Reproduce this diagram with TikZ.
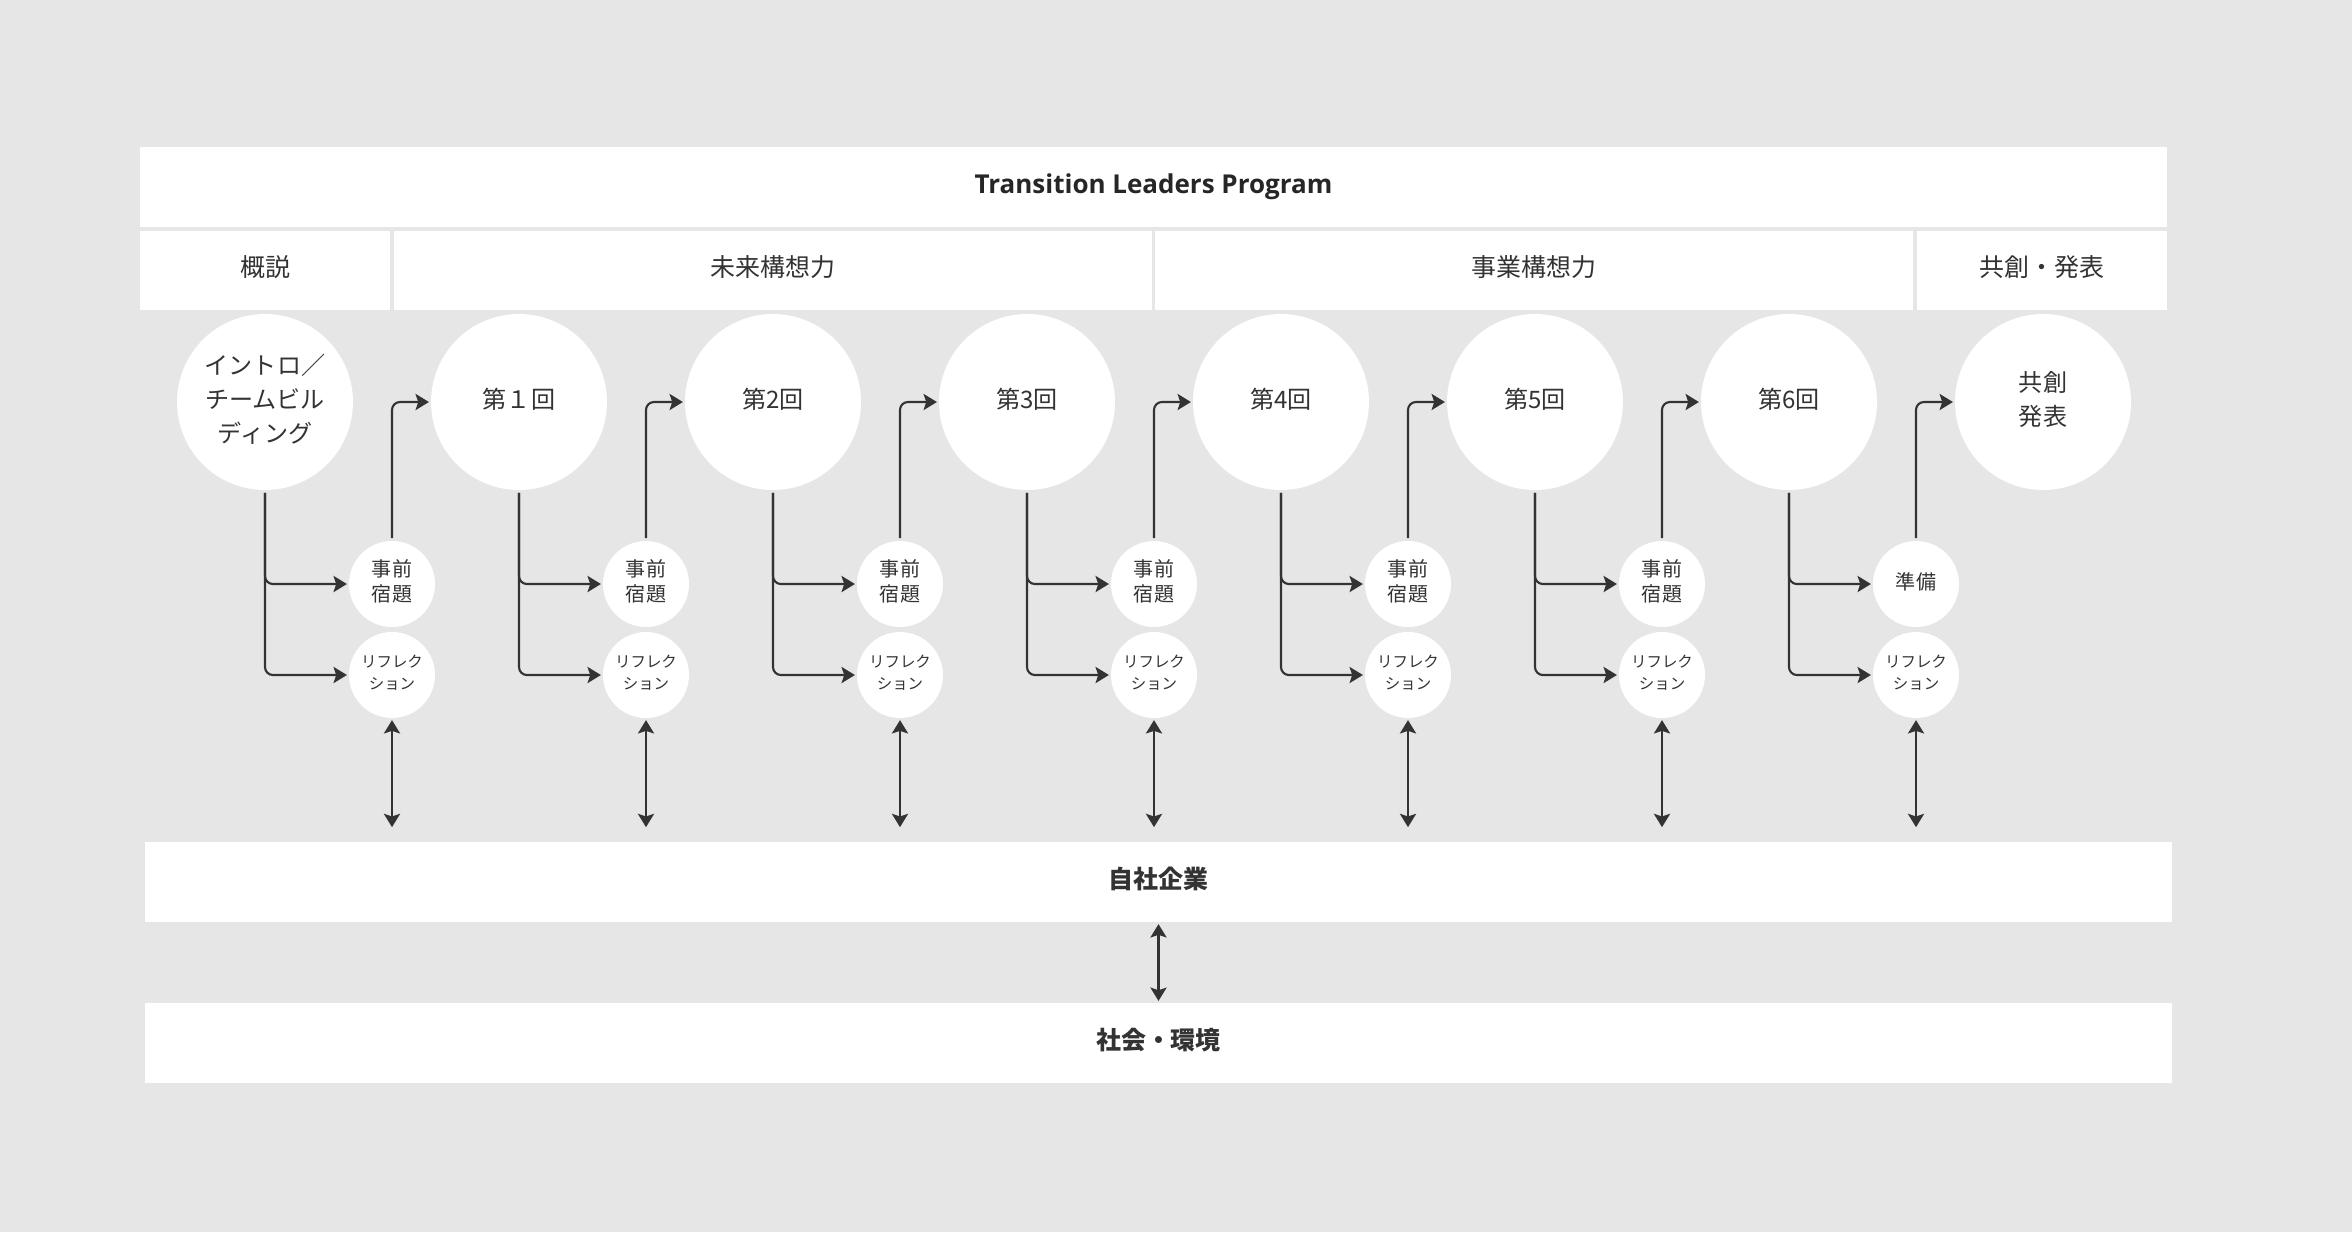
\documentclass[tikz,border=0pt]{standalone}
\usepackage{fontspec}
\setmainfont{Noto Sans CJK JP}
\newfontfamily\titlefont{Open Sans}
\usetikzlibrary{arrows.meta}

\definecolor{paper}{HTML}{E6E6E6}
\definecolor{ink}{HTML}{333333}

\begin{document}
\begin{tikzpicture}[
    x=0.02cm, y=-0.02cm,
    band/.style={fill=white,inner sep=0pt,text=ink,minimum height=1.6cm,text depth=5.1pt,font=\fontsize{14.2}{17}\selectfont},
    session/.style={circle,fill=white,inner sep=0pt,minimum size=3.52cm,align=center,text=ink,text depth=4pt,font=\fontsize{13.7}{19.2}\selectfont},
    task/.style={circle,fill=white,inner sep=0pt,minimum size=1.72cm,align=center,text=ink,text depth=3.6pt,font=\fontsize{11.4}{14.2}\selectfont},
    refl/.style={task,text depth=3.6pt,font=\fontsize{8.8}{12.6}\selectfont},
    flow/.style={draw=ink,line width=1.2pt,rounded corners=4.5pt,shorten <=1.5pt,shorten >=1pt,-{Stealth[length=7.6pt,width=9.2pt,inset=1.5pt]}},
    link/.style={draw=ink,line width=1.2pt,shorten <=1pt,shorten >=1pt,{Stealth[length=7.6pt,width=9.2pt,inset=1.5pt]}-{Stealth[length=7.6pt,width=9.2pt,inset=1.5pt]}}
]

\fill[paper] (0,0) rectangle (2352,1232);
\useasboundingbox (0,0) rectangle (2352,1232);

% header
\node[band,minimum width=40.54cm,text=black!85,text depth=4.4pt] (title) at (1153.5,187) {\titlefont\bfseries\fontsize{14.8}{18}\selectfont Transition Leaders Program};
\node[band,minimum width=5cm,minimum height=1.58cm] (ph0) at (265,270) {概説};
\node[band,minimum width=15.16cm,minimum height=1.58cm] (ph1) at (773,270) {未来構想力};
\node[band,minimum width=15.16cm,minimum height=1.58cm] (ph2) at (1534,270) {事業構想力};
\node[band,minimum width=5cm,minimum height=1.58cm] (ph3) at (2042,270) {共創・発表};

% sessions
\node[session] (s0) at (265,402) {イントロ／\\チームビル\\ディング};
\node[session] (s1) at (519,402) {第１回};
\node[session] (s2) at (773,402) {第2回};
\node[session] (s3) at (1027,402) {第3回};
\node[session] (s4) at (1281,402) {第4回};
\node[session] (s5) at (1535,402) {第5回};
\node[session] (s6) at (1789,402) {第6回};
\node[session] (s7) at (2043,402) {共創\\発表};

% homework and reflection
\node[task] (p0) at (392,584) {事前\\宿題};
\node[task] (p1) at (646,584) {事前\\宿題};
\node[task] (p2) at (900,584) {事前\\宿題};
\node[task] (p3) at (1154,584) {事前\\宿題};
\node[task] (p4) at (1408,584) {事前\\宿題};
\node[task] (p5) at (1662,584) {事前\\宿題};
\node[task] (p6) at (1916,584) {準備};

\node[refl] (r0) at (392,675) {リフレク\\ション};
\node[refl] (r1) at (646,675) {リフレク\\ション};
\node[refl] (r2) at (900,675) {リフレク\\ション};
\node[refl] (r3) at (1154,675) {リフレク\\ション};
\node[refl] (r4) at (1408,675) {リフレク\\ション};
\node[refl] (r5) at (1662,675) {リフレク\\ション};
\node[refl] (r6) at (1916,675) {リフレク\\ション};

% company and society
\node[band,minimum width=40.54cm,font=\bfseries\fontsize{14.2}{17}\selectfont] (firm) at (1158.5,882) {自社企業};
\node[band,minimum width=40.54cm,font=\bfseries\fontsize{14.2}{17}\selectfont] (society) at (1158.5,1043) {社会・環境};

\foreach \i/\j in {0/1,1/2,2/3,3/4,4/5,5/6,6/7} {
  \draw[flow] (s\i.south) |- (p\i.west);
  \draw[flow] (s\i.south) |- (r\i.west);
  \draw[flow] (p\i.north) |- (s\j.west);
  \coordinate (d\i) at ([yshift=-87.6pt]r\i.center);
  \draw[link] (r\i) -- (d\i);
}
\draw[link] (firm) -- (society);

\end{tikzpicture}
\end{document}
